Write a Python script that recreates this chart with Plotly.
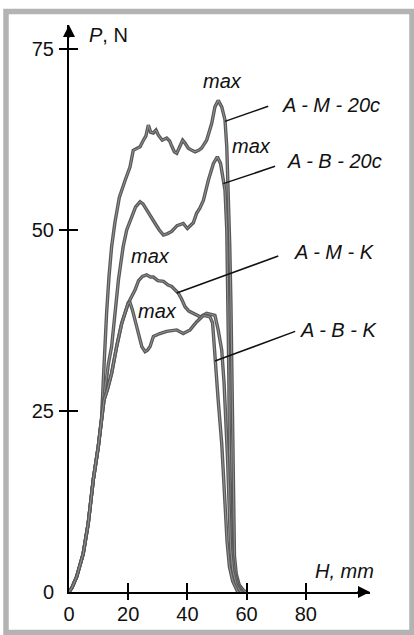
import plotly.graph_objects as go

# ---------------- data ----------------
H_AM20 = [0, 1.0, 2.6, 4.8, 6.5, 8.2, 9.9, 11.0, 11.6, 12.1, 12.7, 13.5, 14.4, 15.5, 17.0, 19.0,
          20.6, 21.7, 22.9, 24.0, 25.0, 26.0, 26.8, 27.6, 28.5, 29.4, 30.2, 31.5, 33.0, 34.0,
          34.7, 35.6, 36.4, 37.5, 38.4, 39.2, 40.3, 41.5, 42.6, 43.8, 44.8, 46.5, 48.2, 49.3,
          50.4, 51.6, 52.7, 53.3, 53.8, 54.3, 54.7, 55.0, 55.3, 55.5, 55.9, 56.5, 57.5, 59.0, 60.0]
P_AM20 = [0, 0.6, 2.1, 5.3, 9.5, 15.5, 20.1, 24.0, 29.3, 34.0, 38.5, 43.5, 47.7, 51.0, 54.5, 56.9,
          58.7, 61.0, 61.2, 61.5, 62.3, 63.0, 64.5, 63.5, 63.4, 63.8, 63.1, 62.4, 62.7, 62.3,
          61.6, 60.8, 60.6, 61.6, 62.4, 62.0, 61.3, 61.0, 60.8, 61.0, 61.3, 62.4, 64.7, 67.0,
          67.9, 67.0, 65.2, 61.5, 56.0, 48.0, 40.0, 30.0, 20.0, 12.0, 5.0, 2.5, 1.0, 0.2, 0]

H_AB20 = [0, 1.0, 2.6, 4.8, 6.5, 8.2, 9.9, 11.0, 11.6, 12.2, 13.3, 14.4, 15.5, 16.7, 18.3, 19.5,
          21.2, 22.5, 24.0, 25.0, 26.2, 27.6, 29.1, 30.5, 31.9, 33.3, 34.7, 36.5, 38.6, 40.0,
          40.9, 42.0, 43.1, 44.2, 45.4, 47.1, 48.8, 50.1, 51.2, 52.1, 52.7, 53.3, 53.7, 54.0,
          54.2, 54.5, 55.0, 55.8, 57.0, 58.5]
P_AB20 = [0, 0.6, 2.1, 5.3, 9.5, 15.5, 20.1, 24.0, 26.5, 28.4, 31.5, 33.9, 38.5, 43.1, 47.7, 50.0,
          51.8, 53.2, 53.9, 53.6, 52.8, 51.8, 50.9, 50.0, 49.3, 49.5, 49.8, 50.6, 50.9, 50.2,
          50.5, 51.0, 52.3, 53.0, 54.1, 56.9, 59.2, 60.1, 59.2, 56.9, 55.5, 50.0, 40.0, 30.0,
          20.0, 12.0, 6.0, 3.0, 1.0, 0]

H_AMK = [0, 1.0, 2.6, 4.8, 6.5, 8.2, 9.9, 11.0, 11.8, 13.0, 14.4, 16.1, 17.8, 20.0, 21.2, 22.3,
         23.5, 24.8, 26.2, 27.5, 28.5, 30.0, 31.9, 33.5, 34.7, 36.9, 38.0, 39.2, 40.5, 42.0,
         44.3, 46.5, 48.0, 49.3, 50.4, 51.6, 52.4, 53.0, 53.6, 54.1, 54.6, 55.3, 56.5, 58.0]
P_AMK = [0, 0.6, 2.1, 5.3, 9.5, 15.5, 20.1, 24.0, 26.5, 28.0, 30.2, 33.9, 37.1, 39.9, 40.8, 41.7,
         43.0, 43.6, 43.8, 43.5, 43.5, 43.0, 42.9, 42.4, 42.2, 41.3, 40.5, 39.4, 38.8, 38.5,
         38.0, 38.5, 38.3, 38.2, 36.2, 33.4, 28.8, 24.2, 18.0, 12.0, 6.0, 3.0, 1.0, 0]

H_ABK = [0, 1.0, 2.6, 4.8, 6.5, 8.2, 9.9, 11.0, 11.8, 13.0, 14.4, 16.1, 17.8, 20.0, 20.6, 21.4,
         22.3, 23.5, 24.6, 25.7, 26.5, 27.4, 28.5, 30.7, 33.0, 36.4, 38.6, 40.9, 43.1, 45.4,
         47.6, 48.5, 49.3, 50.4, 51.6, 52.6, 53.4, 54.2, 55.3, 57.0]
P_ABK = [0, 0.6, 2.1, 5.3, 9.5, 15.5, 20.1, 24.0, 26.5, 28.0, 30.2, 33.9, 37.1, 39.9, 40.0, 39.0,
         37.6, 35.8, 33.9, 33.2, 33.4, 33.9, 35.3, 35.7, 36.0, 36.2, 35.7, 36.2, 37.3, 38.2,
         38.0, 37.2, 32.0, 26.5, 20.5, 13.0, 7.0, 3.5, 1.5, 0]

SERIES = ["A - M - 20c", "A - B - 20c", "A - M - K", "A - B - K"]
X_TICKS = [0, 20, 40, 60, 80]
Y_TICKS = [0, 25, 50, 75]

# label anchors (data units) and leader lines
LABEL_POS = [(71.3, 67.3), (73.0, 59.5), (75.3, 47.0), (77.5, 36.2)]
LEADERS = [((52.7, 65.0), (67.3, 67.1)),
           ((52.1, 56.4), (69.6, 58.8)),
           ((36.4, 41.3), (70.7, 46.4)),
           ((49.3, 31.9), (76.4, 36.0))]
MAX_POS = [(52.0, 70.6), (61.8, 61.6), (27.4, 46.4), (29.9, 38.8)]

# ---------------- layout geometry ----------------
W, HT = 414, 635
X0PX, X1PX, SX = 69, 370, 2.96      # px of H=0, px of arrow tip, px per mm
Y0PX, Y1PX, SY = 592, 25, 7.24      # px of P=0, px of arrow tip, px per N
XR = [0, (X1PX - X0PX) / SX]
YR = [0, (Y0PX - Y1PX) / SY]
XDOM = [X0PX / W, X1PX / W]
YDOM = [1 - Y0PX / HT, 1 - Y1PX / HT]

FONT = "Liberation Sans, Arial, sans-serif"
CURVE_DARK = "#585858"
CURVE_LIGHT = "#9a9a9a"

fig = go.Figure()
for hx, py in [(H_AM20, P_AM20), (H_AB20, P_AB20), (H_AMK, P_AMK), (H_ABK, P_ABK)]:
    fig.add_trace(go.Scatter(x=hx, y=py, mode="lines", line=dict(color=CURVE_DARK, width=3.4),
                             hoverinfo="skip", showlegend=False))
    fig.add_trace(go.Scatter(x=hx, y=py, mode="lines", line=dict(color=CURVE_LIGHT, width=0.9),
                             hoverinfo="skip", showlegend=False))

# empty traces so that the tick-only overlay axes are created
for xa, ya in [("x2", "y"), ("x3", "y"), ("x", "y2"), ("x", "y3")]:
    fig.add_trace(go.Scatter(x=[None], y=[None], xaxis=xa, yaxis=ya, showlegend=False,
                             hoverinfo="skip"))

tickfont = dict(family=FONT, size=20, color="#111")
base_x = dict(domain=XDOM, range=XR, showgrid=False, zeroline=False, fixedrange=True,
              automargin=False)
base_y = dict(domain=YDOM, range=YR, showgrid=False, zeroline=False, fixedrange=True,
              automargin=False)

fig.update_layout(
    width=W, height=HT, margin=dict(l=0, r=0, t=0, b=0, autoexpand=False),
    paper_bgcolor="white", plot_bgcolor="rgba(0,0,0,0)",
    xaxis=dict(**base_x, showline=True, linecolor="black", linewidth=2,
               tickvals=X_TICKS, ticktext=[str(v) for v in X_TICKS], ticks="",
               tickfont=tickfont, ticklabelstandoff=3),
    xaxis2=dict(**base_x, overlaying="x", anchor="y", showline=False, showticklabels=False,
                tickvals=X_TICKS[1:], ticks="outside", ticklen=7, tickwidth=2, tickcolor="black"),
    xaxis3=dict(**base_x, overlaying="x", anchor="y", showline=False, showticklabels=False,
                tickvals=X_TICKS[1:], ticks="inside", ticklen=9, tickwidth=2, tickcolor="black"),
    yaxis=dict(**base_y, showline=True, linecolor="black", linewidth=2,
               tickvals=Y_TICKS, ticktext=[str(v) for v in Y_TICKS], ticks="",
               tickfont=tickfont, ticklabelstandoff=9),
    yaxis2=dict(**base_y, overlaying="y", anchor="x", showline=False, showticklabels=False,
                tickvals=Y_TICKS[1:], ticks="outside", ticklen=9, tickwidth=2, tickcolor="black"),
    yaxis3=dict(**base_y, overlaying="y", anchor="x", showline=False, showticklabels=False,
                tickvals=Y_TICKS[1:], ticks="inside", ticklen=9, tickwidth=2, tickcolor="black"),
)

# frame
fig.add_shape(type="rect", xref="paper", yref="paper",
              x0=6 / W, x1=412 / W, y0=1 - 632.5 / HT, y1=1 - 11.5 / HT,
              line=dict(color="#b3b3b3", width=5.5), fillcolor="rgba(0,0,0,0)", layer="below")

# axis arrowheads
fig.add_annotation(x=XR[1], y=0, ax=-14, ay=0, text="", showarrow=True, arrowhead=2,
                   arrowwidth=2, arrowsize=1.2, arrowcolor="black")
fig.add_annotation(x=0, y=YR[1], ax=0, ay=14, text="", showarrow=True, arrowhead=2,
                   arrowwidth=2, arrowsize=1.2, arrowcolor="black")

# axis titles
fig.add_annotation(x=6.1, y=76.9, text="<i>P</i>, N", showarrow=False, xanchor="left",
                   yanchor="middle", font=dict(family=FONT, size=20, color="#111"))
fig.add_annotation(x=82.4, y=2.9, text="<i>H, mm</i>", showarrow=False, xanchor="left",
                   yanchor="middle", font=dict(family=FONT, size=20, color="#111"))

# series labels + leader lines
for name, (lx, ly), ((ax0, ay0), (ax1, ay1)) in zip(SERIES, LABEL_POS, LEADERS):
    fig.add_annotation(x=lx, y=ly, text=f"<i>{name}</i>", showarrow=False, xanchor="left",
                       yanchor="middle", font=dict(family=FONT, size=20, color="#111"))
    fig.add_shape(type="line", xref="x", yref="y", x0=ax0, y0=ay0, x1=ax1, y1=ay1,
                  line=dict(color="#111", width=1.5))

for mx, my in MAX_POS:
    fig.add_annotation(x=mx, y=my, text="<i>max</i>", showarrow=False, xanchor="center",
                       yanchor="middle", font=dict(family=FONT, size=20, color="#111"))

fig.write_html("out.html", config={"displayModeBar": False, "staticPlot": True},
               post_script="document.body.style.margin='0';document.body.style.overflow='hidden';")
